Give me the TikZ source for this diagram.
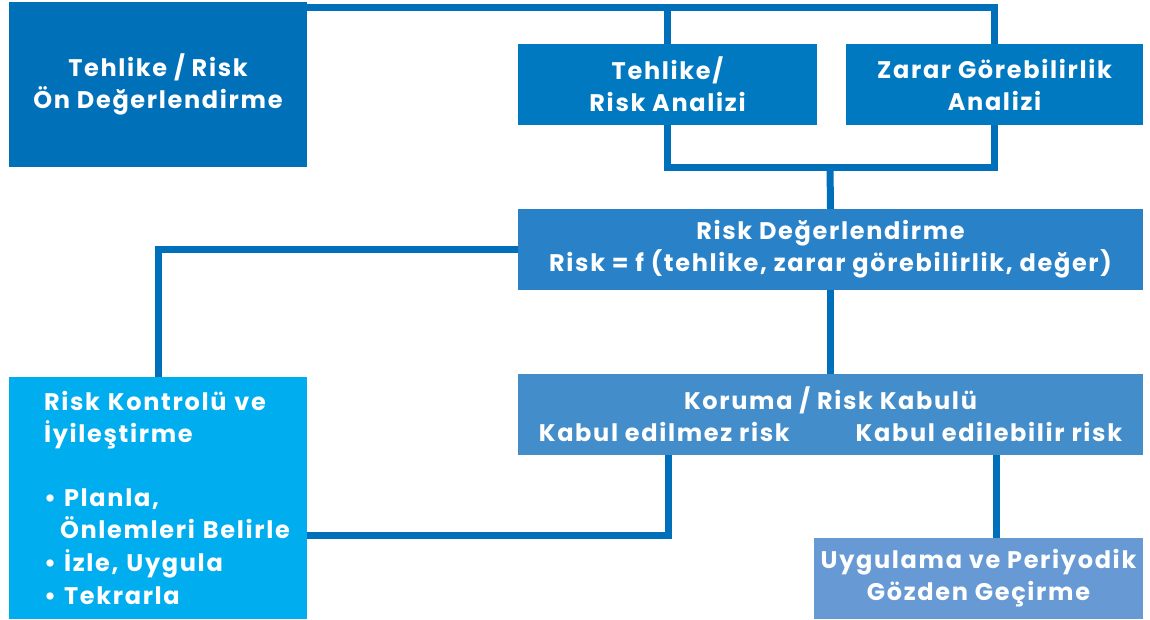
\documentclass[tikz,border=0pt]{standalone}
\usepackage{fontspec}
\setmainfont{Poppins}[LetterSpace=7]
\definecolor{cLine}{HTML}{0070BA}
\definecolor{cA}{HTML}{0070B9}
\definecolor{cB}{HTML}{0079C1}
\definecolor{cD}{HTML}{2982C8}
\definecolor{cE}{HTML}{00AEEF}
\definecolor{cF}{HTML}{448DCB}
\definecolor{cG}{HTML}{679AD4}
\begin{document}
\begin{tikzpicture}[x=1pt,y=-1pt,
  box/.style={rectangle, inner sep=0pt, text=white, align=center,
    font=\fontsize{24}{32}\selectfont\bfseries},
  conn/.style={draw=cLine, line width=7pt}]
\useasboundingbox (0,0) rectangle (1150,619);
\node[box, fill=cA, minimum width=298pt, minimum height=165pt] (A) at (158,84.5) {Tehlike / Risk\\Ön Değerlendirme};
\node[box, fill=cB, minimum width=299pt, minimum height=81pt] (B) at (667.5,84.5) {Tehlike/\\Risk Analizi};
\node[box, fill=cB, minimum width=297pt, minimum height=81pt] (C) at (994.5,84.5) {Zarar Görebilirlik\\Analizi};
\node[box, fill=cD, minimum width=625pt, minimum height=81pt] (D) at (830.5,249.5) {Risk Değerlendirme\\Risk = f (tehlike, zarar görebilirlik, değer)};
\node[box, fill=cE, minimum width=298pt, minimum height=242pt, align=left, text width=228pt] (E) at (158,498) {\mbox{Risk Kontrolü ve}\\\mbox{İyileştirme}\\[32pt]\mbox{• Planla,}\\\mbox{\hspace*{16pt}Önlemleri Belirle}\\[1pt]\mbox{• İzle, Uygula}\\[1pt]\mbox{• Tekrarla}};
\node[box, fill=cF, minimum width=625pt, minimum height=81pt] (F) at (830.5,414.5) {Koruma / Risk Kabulü\\Kabul edilmez risk\hspace{66pt}Kabul edilebilir risk};
\node[box, fill=cG, minimum width=329pt, minimum height=81pt] (G) at (978.5,578.5) {Uygulama ve Periyodik\\Gözden Geçirme};
\coordinate (top) at (0,7);
\coordinate (jn) at (830,167);
\coordinate (k) at (668,535);
\coordinate (rx) at (996,0);
\draw[conn] (A.east |- top) -- (C.north |- top) -- (C.north);
\draw[conn] (B.north |- top) -- (B.north);
\draw[conn] (B.south) -- (B.south |- jn) -- (C.south |- jn) -- (C.south);
\draw[conn] (jn) -- (D.north);
\draw[conn] (D.west) -- (E.north |- D.west) -- (E.north);
\draw[conn] (D.south) -- (F.north);
\draw[conn] (F.south -| k) -- (k) -- (k -| E.east);
\draw[conn] (F.south -| rx) -- (G.north -| rx);
\end{tikzpicture}
\end{document}
